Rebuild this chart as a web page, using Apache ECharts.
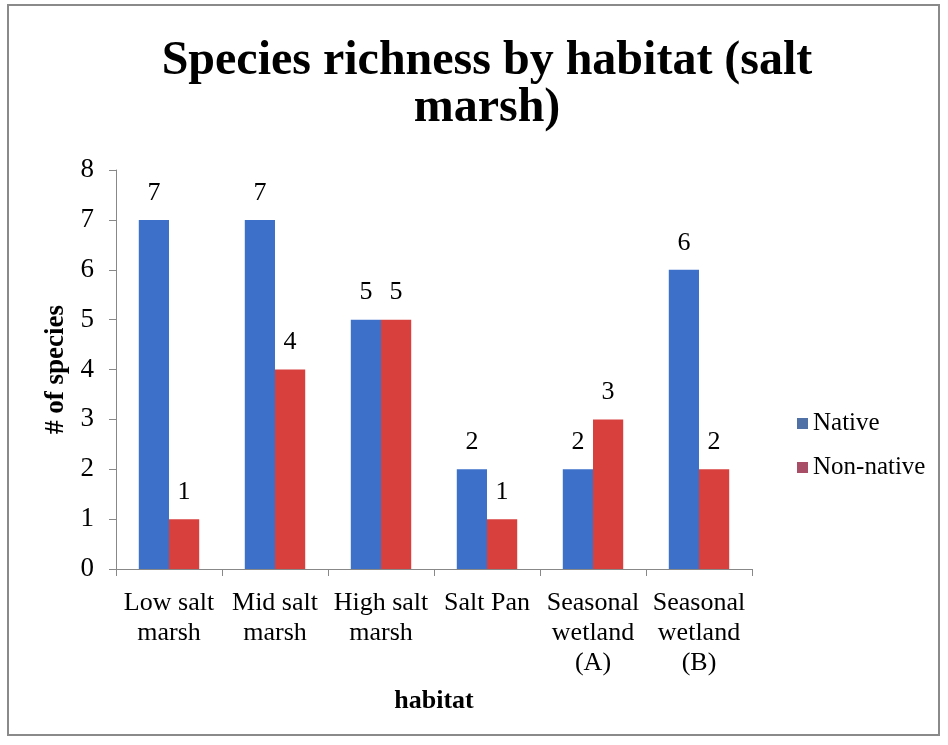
<!DOCTYPE html>
<html><head><meta charset="utf-8">
<script src="https://cdn.jsdelivr.net/npm/echarts@6/dist/echarts.min.js"></script>
<style>html,body{margin:0;padding:0;background:#fff}#c{width:948px;height:745px}</style>
</head><body><div id="c"></div>
<script>
const categories = ['Low salt\nmarsh','Mid salt\nmarsh','High salt\nmarsh','Salt Pan','Seasonal\nwetland\n(A)','Seasonal\nwetland\n(B)'];
const nativeValues = [7,7,5,2,2,6];
const nonNativeValues = [1,4,5,1,3,2];
const yTicks = [0,1,2,3,4,5,6,7,8];

const serif = '"Liberation Serif","Times New Roman",serif';
const chart = echarts.init(document.getElementById('c'));
chart.setOption({
  backgroundColor:'#fff',
  title:{text:'Species richness by habitat (salt\nmarsh)',left:482,textAlign:'center',top:33,
    textStyle:{fontFamily:serif,fontWeight:'bold',fontSize:48,lineHeight:47,color:'#000'}},
  graphic:[{type:'rect',shape:{x:8,y:5,width:931,height:730},style:{fill:'none',stroke:'#8a8a8a',lineWidth:2}}],
  legend:{orient:'vertical',left:792,top:406,itemWidth:11,itemHeight:11,itemGap:19,icon:'rect',
    textStyle:{fontFamily:serif,fontSize:25,color:'#000'},
    data:[{name:'Native',itemStyle:{color:'#4F71A6'}},{name:'Non-native',itemStyle:{color:'#A84E66'}}]},
  grid:{left:116,top:170,width:636,height:399,containLabel:false},
  xAxis:{type:'category',data:categories,name:'habitat',nameLocation:'middle',nameGap:119,
    nameTextStyle:{fontFamily:serif,fontWeight:'bold',fontSize:26,color:'#000'},
    axisLine:{lineStyle:{color:'#888'}},axisTick:{show:true,length:7,lineStyle:{color:'#888'}},
    axisLabel:{fontFamily:serif,fontSize:26,color:'#000',lineHeight:30,margin:19,interval:0}},
  yAxis:{type:'value',min:0,max:8,interval:1,name:'# of species',nameLocation:'middle',nameGap:46,
    nameTextStyle:{fontFamily:serif,fontWeight:'bold',fontSize:27,color:'#000'},
    axisLine:{show:true,lineStyle:{color:'#888'}},axisTick:{show:true,length:7,lineStyle:{color:'#888'}},
    splitLine:{show:false},
    axisLabel:{fontFamily:serif,fontSize:27,color:'#000',margin:22,formatter:v=>yTicks.includes(v)?String(v):''}},
  series:[
    {name:'Native',type:'bar',data:nativeValues,barGap:'0%',barCategoryGap:'43%',
      itemStyle:{color:'#3D70C9'},
      label:{show:true,position:'top',distance:14,fontFamily:serif,fontSize:26,color:'#000'}},
    {name:'Non-native',type:'bar',data:nonNativeValues,
      itemStyle:{color:'#D8403E'},
      label:{show:true,position:'top',distance:14,fontFamily:serif,fontSize:26,color:'#000'}}
  ]
});
</script></body></html>
